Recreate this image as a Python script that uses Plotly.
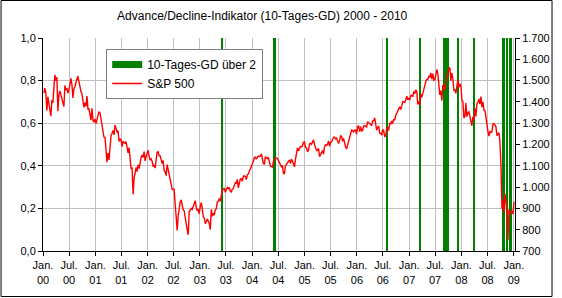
import pandas as pd
import plotly.graph_objects as go

# --- data -------------------------------------------------------------
first_week = "2000-01-07"   # weekly (Friday) closes of the S&P 500
sp500 = [
    # 2000
    1441, 1465, 1441, 1360, 1424, 1387, 1346, 1333, 1409, 1395, 1464, 1527, 1499,
    1516, 1356, 1434, 1452, 1433, 1420, 1406, 1378, 1477, 1457, 1464, 1441, 1455,
    1478, 1510, 1481, 1419, 1462, 1471, 1491, 1507, 1521, 1495, 1466, 1449, 1437,
    1408, 1374, 1396, 1379, 1427, 1366, 1367, 1341, 1315, 1370, 1313, 1305, 1320,
    # 2001
    1298, 1318, 1342, 1354, 1349, 1314, 1301, 1245, 1234, 1233, 1150, 1117, 1160,
    1128, 1183, 1242, 1253, 1266, 1245, 1291, 1277, 1260, 1264, 1214, 1225, 1224,
    1190, 1215, 1210, 1205, 1214, 1190, 1161, 1185, 1133, 1085, 1093, 966, 1041,
    1071, 1092, 1073, 1105, 1087, 1120, 1139, 1150, 1139, 1167, 1123, 1144, 1161,
    # 2002
    1173, 1146, 1127, 1133, 1122, 1096, 1104, 1089, 1131, 1164, 1166, 1148, 1147,
    1122, 1111, 1125, 1076, 1073, 1054, 1106, 1083, 1067, 1027, 1007, 990, 990,
    989, 921, 847, 797, 865, 908, 930, 940, 916, 893, 889, 846, 827,
    800, 776, 884, 897, 900, 895, 909, 930, 936, 906, 889, 895, 875,
    # 2003
    908, 927, 901, 861, 856, 829, 834, 851, 841, 829, 800, 895, 863,
    878, 868, 893, 898, 930, 933, 946, 933, 964, 987, 988, 995, 976,
    985, 998, 993, 998, 980, 977, 990, 993, 1008, 1021, 1018, 1036, 996,
    1029, 1038, 1039, 1028, 1051, 1053, 1050, 1035, 1058, 1061, 1074, 1089, 1095,
    # 2004
    1108, 1122, 1139, 1141, 1131, 1142, 1146, 1144, 1145, 1156, 1120, 1110, 1108,
    1141, 1139, 1134, 1140, 1107, 1098, 1096, 1094, 1121, 1123, 1137, 1135, 1135,
    1125, 1112, 1101, 1096, 1102, 1064, 1064, 1099, 1107, 1114, 1123, 1128, 1110,
    1131, 1122, 1108, 1095, 1130, 1167, 1184, 1170, 1182, 1191, 1189, 1194, 1210, 1212,
    # 2005
    1186, 1184, 1168, 1171, 1203, 1205, 1201, 1211, 1222, 1200, 1190, 1172, 1172,
    1182, 1143, 1152, 1157, 1172, 1155, 1190, 1198, 1196, 1201, 1217, 1191, 1211,
    1212, 1228, 1234, 1234, 1226, 1230, 1220, 1205, 1218, 1241, 1238, 1215, 1229,
    1196, 1187, 1179, 1198, 1220, 1235, 1248, 1268, 1265, 1259, 1267, 1268, 1248,
    # 2006
    1285, 1287, 1261, 1284, 1264, 1267, 1287, 1289, 1287, 1282, 1307, 1302, 1295,
    1295, 1289, 1311, 1311, 1325, 1291, 1267, 1280, 1288, 1253, 1252, 1244, 1270,
    1265, 1236, 1240, 1278, 1280, 1266, 1302, 1295, 1311, 1299, 1319, 1314, 1336,
    1349, 1365, 1368, 1377, 1364, 1380, 1401, 1400, 1397, 1409, 1427, 1410, 1418,
    # 2007
    1409, 1430, 1431, 1423, 1449, 1438, 1456, 1451, 1388, 1402, 1386, 1437, 1421,
    1444, 1453, 1484, 1495, 1505, 1505, 1522, 1515, 1536, 1507, 1533, 1502, 1503,
    1530, 1552, 1534, 1458, 1433, 1453, 1406, 1479, 1474, 1454, 1484, 1525, 1527,
    1557, 1561, 1500, 1535, 1509, 1453, 1458, 1440, 1481, 1504, 1468, 1484, 1478,
    # 2008
    1411, 1401, 1325, 1330, 1395, 1331, 1349, 1353, 1331, 1294, 1288, 1330, 1316,
    1370, 1332, 1390, 1398, 1414, 1389, 1425, 1375, 1400, 1361, 1360, 1318, 1278,
    1262, 1240, 1261, 1257, 1260, 1296, 1298, 1292, 1283, 1242, 1252, 1255, 1213,
    1099, 899, 940, 877, 968, 930, 873, 752, 896, 876, 879, 888, 873,
    # 2009
    931,
]

# periods in which the 10-day A/D average was above 2
signal_start = ["2003-05-29", "2004-05-24", "2006-07-26", "2007-03-14", "2007-08-23",
                "2007-12-03", "2008-03-24", "2008-10-10", "2008-11-11", "2008-11-27"]
signal_end = ["2003-06-05", "2004-06-16", "2006-08-09", "2007-03-22", "2007-10-03",
              "2007-12-17", "2008-04-07", "2008-11-01", "2008-11-18", "2008-12-17"]

tick_dates = pd.date_range("2000-01-01", "2009-01-01", freq="6MS")
tick_labels = [("Jan." if d.month == 1 else "Jul.") + "<br>" + d.strftime("%y") for d in tick_dates]

title_text = "Advance/Decline-Indikator (10-Tages-GD) 2000 - 2010"
name_signal = "10-Tages-GD über 2"
name_sp = "S&P 500"

# --- figure -----------------------------------------------------------
weeks = pd.date_range(first_week, periods=len(sp500), freq="W-FRI")
s0 = pd.to_datetime(signal_start)
s1 = pd.to_datetime(signal_end)
centers = s0 + (s1 - s0) / 2
widths = [(b - a).total_seconds() * 1000 for a, b in zip(s0, s1)]

GREEN = "#008000"
font = "Liberation Sans, Arial, sans-serif"

fig = go.Figure()
fig.add_trace(go.Bar(x=centers, y=[1] * len(centers), width=widths,
                     marker=dict(color=GREEN, line=dict(width=0)),
                     showlegend=False, legendgroup="sig", name=name_signal,
                     yaxis="y"))
fig.add_trace(go.Scatter(x=[None], y=[None], mode="lines", name=name_signal,
                         legendgroup="sig",
                         line=dict(color=GREEN, width=7)))
fig.add_trace(go.Scatter(x=weeks, y=sp500, mode="lines", name=name_sp,
                         line=dict(color="#ff0000", width=1.4), yaxis="y2"))

L, R, T, B = 43, 41, 38, 47
W, H = 562, 298
pw, ph = W - L - R, H - T - B

fig.update_layout(
    width=W, height=H,
    margin=dict(l=L, r=R, t=T, b=B, pad=0),
    paper_bgcolor="white", plot_bgcolor="white",
    separators=",.",
    font=dict(family=font, size=11, color="black"),
    title=dict(text=title_text, x=261 / W, xanchor="center", xref="paper",
               y=1 - 16 / H, yanchor="middle", yref="container",
               font=dict(size=12, family=font, color="black")),
    bargap=0,
    showlegend=True,
    legend=dict(x=(107 - L) / pw, y=(T + ph - 49) / ph, xanchor="left", yanchor="top",
                bgcolor="white", bordercolor="#808080", borderwidth=1,
                font=dict(size=12, family=font), tracegroupgap=0,
                itemwidth=30),
    xaxis=dict(type="date", range=["2000-01-01", "2009-01-09"],
               tickvals=tick_dates, ticktext=tick_labels,
               showgrid=True, gridcolor="#c0c0c0", gridwidth=1,
               showline=True, linecolor="black", linewidth=1,
               ticks="outside", ticklen=4, tickcolor="black",
               zeroline=False, tickangle=0),
    yaxis=dict(range=[0, 1], dtick=0.2, tick0=0, tickformat=".1f",
               showgrid=True, gridcolor="#c0c0c0", gridwidth=1,
               showline=True, linecolor="black", linewidth=1,
               ticks="outside", ticklen=4, tickcolor="black", zeroline=False),
    yaxis2=dict(range=[700, 1700], dtick=100, tick0=700, tickformat=",d",
                overlaying="y", side="right", showgrid=False,
                showline=True, linecolor="black", linewidth=1,
                ticks="outside", ticklen=4, tickcolor="black", zeroline=False),
    shapes=[dict(type="rect", xref="paper", yref="paper",
                 x0=(0.5 - L) / pw, x1=(558.5 - L) / pw,
                 y0=(T + ph - 296.5) / ph, y1=(T + ph - 0.5) / ph,
                 line=dict(color="black", width=1), fillcolor="rgba(0,0,0,0)",
                 layer="above")],
)

fig.write_html("out.html")
